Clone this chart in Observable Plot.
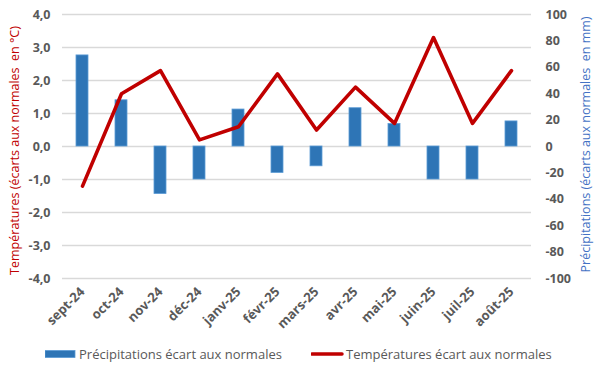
<!DOCTYPE html>
<html>
<head>
<meta charset="utf-8">
<script src="https://cdn.jsdelivr.net/npm/d3@7"></script>
<script src="https://cdn.jsdelivr.net/npm/@observablehq/plot@0.6"></script>
<style>
  html, body { margin: 0; padding: 0; background: white; }
  #wrap { width: 600px; height: 368px; position: relative; font-family: "Open Sans", sans-serif; }
  #legend { position: absolute; left: 0; top: 340px; width: 600px; height: 28px; font-size: 13px; color: #595959; }
  #legend .item { position: absolute; top: 0; height: 28px; display: flex; align-items: center; }
</style>
</head>
<body>
<div id="wrap">
  <div id="chart"></div>
  <div id="legend">
    <div class="item" style="left:45px"><svg width="34" height="10"><rect x="0" y="1.5" width="30" height="7" fill="#2E75B6" stroke="#5B9BD5" stroke-width="0.8"></rect></svg><span>Précipitations écart aux normales</span></div>
    <div class="item" style="left:311px"><svg width="35" height="10"><line x1="1" y1="5" x2="31" y2="5" stroke="#C00000" stroke-width="3.5" stroke-linecap="round"></line></svg><span>Températures écart aux normales</span></div>
  </div>
</div>
<script>
const months = ["sept-24","oct-24","nov-24","déc-24","janv-25","févr-25","mars-25","avr-25","mai-25","juin-25","juil-25","août-25"];
const temperatures = [-1.2, 1.6, 2.3, 0.2, 0.6, 2.2, 0.5, 1.8, 0.7, 3.3, 0.7, 2.3];
const precipitations = [69, 35, -36, -25, 28, -20, -15, 29, 17, -25, -25, 19];
const leftTicks = [-4, -3, -2, -1, 0, 1, 2, 3, 4];
const rightTicks = [-100, -80, -60, -40, -20, 0, 20, 40, 60, 80, 100];
const precipPerDegree = 25;
const leftTitle = "Températures (écarts aux normales  en °C)";
const rightTitle = "Précipitations (écarts aux normales  en mm)";

const data = months.map((m, i) => ({month: m, temp: temperatures[i], precip: precipitations[i]}));

const chart = Plot.plot({
  width: 600,
  height: 340,
  marginLeft: 62,
  marginRight: 69,
  marginTop: 14,
  marginBottom: 62,
  style: {fontFamily: "Open Sans, sans-serif", fontSize: "12.5px", color: "#595959", background: "white"},
  x: {domain: months, paddingInner: 0.69, paddingOuter: 0.345, axis: null},
  y: {domain: [-4, 4], axis: null},
  marks: [
    Plot.gridY(leftTicks, {stroke: "#D9D9D9", strokeOpacity: 1, strokeWidth: 1.5}),
    Plot.barY(data, {x: "month", y: d => d.precip / precipPerDegree, fill: "#2E75B6", stroke: "#5B9BD5", strokeWidth: 0.8}),
    Plot.lineY(data, {x: "month", y: "temp", stroke: "#C00000", strokeWidth: 3.6}),
    Plot.axisY(leftTicks, {anchor: "left", tickSize: 0, tickPadding: 12, label: null, fontWeight: "bold",
      tickFormat: d => d.toFixed(1).replace(".", ",")}),
    Plot.axisY(rightTicks.map(v => v / precipPerDegree), {anchor: "right", tickSize: 0, tickPadding: 14, label: null, fontWeight: "bold",
      tickFormat: d => String(Math.round(d * precipPerDegree))}),
    Plot.axisX({tickRotate: -45, tickSize: 0, tickPadding: 11, label: null, fontWeight: "bold", fontSize: 13}),
    Plot.text([leftTitle], {frameAnchor: "left", textAnchor: "middle", rotate: -90, dx: -48, dy: 4, fill: "#C00000", fontSize: 12.5}),
    Plot.text([rightTitle], {frameAnchor: "right", textAnchor: "middle", rotate: -90, dx: 54, dy: -2, fill: "#4472C4", fontSize: 12.5})
  ]
});
document.getElementById("chart").appendChild(chart);
</script>
</body>
</html>
